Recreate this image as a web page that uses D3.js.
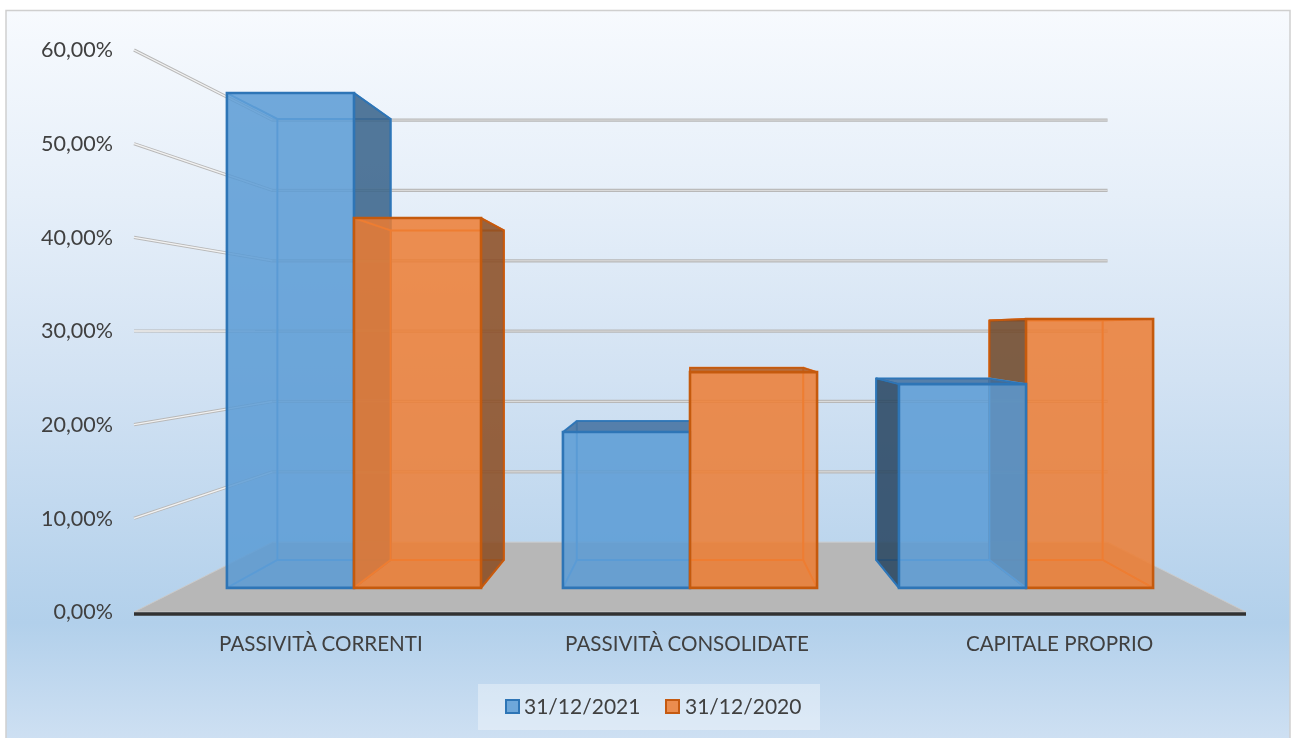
<!DOCTYPE html>
<html><head><meta charset="utf-8">
<script src="https://cdn.jsdelivr.net/npm/d3@7/dist/d3.min.js"></script>
<style>html,body{margin:0;padding:0;background:#fff}svg{display:block}text{font-family:Lato,sans-serif;fill:#404040}</style>
</head><body><div id="c"></div>
<script>
const categories = ["PASSIVITÀ CORRENTI","PASSIVITÀ CONSOLIDATE","CAPITALE PROPRIO"];
const seriesNames = ["31/12/2021","31/12/2020"];
const values2021 = [57.8,18.2,23.8];
const values2020 = [43.2,25.2,31.4];
const yTicks = [0,10,20,30,40,50,60];

const W=1292,H=738;
const svg=d3.select("#c").append("svg").attr("width",W).attr("height",H);
const defs=svg.append("defs");
const bg=defs.append("linearGradient").attr("id","bg").attr("x1",0).attr("y1",0).attr("x2",0).attr("y2",1);
[[0,"#f7fafe"],[0.25,"#e6eff9"],[0.5,"#d2e2f3"],[0.83,"#b2d0eb"],[1,"#d0e1f3"]].forEach(d=>bg.append("stop").attr("offset",d[0]).attr("stop-color",d[1]));
const soft2=defs.append("filter").attr("id","soft2").attr("filterUnits","userSpaceOnUse").attr("x",0).attr("y",0).attr("width",W).attr("height",H);
soft2.append("feGaussianBlur").attr("stdDeviation",0.6);
const soft3=defs.append("filter").attr("id","soft3").attr("filterUnits","userSpaceOnUse").attr("x",0).attr("y",0).attr("width",W).attr("height",H);
soft3.append("feGaussianBlur").attr("stdDeviation",0.3);

svg.append("rect").attr("x",6).attr("y",10.5).attr("width",1284).attr("height",H).attr("fill","url(#bg)").attr("stroke","#cfcfcf").attr("stroke-width",1.5);

// Perspective model of the 3-D box: front plane, depth 0..1 -> scale
const y=d3.scaleLinear().domain([0,60]).range([612,50]);
const x=d3.scaleLinear().domain([134,1246]).range([134,1246]);
const scaleAtDepth=d3.scaleLinear().domain([0,1]).range([1,0.751]);
const vp=[690,331.5];
const barFront=0.345,barBack=0.745;
function P(X,v,d){const s=scaleAtDepth(d);return [vp[0]+(x(X)-vp[0])*s, vp[1]+(y(v)-vp[1])*s];}
const poly=a=>"M"+a.map(p=>p.join(",")).join("L")+"Z";
const pl=a=>"M"+a.map(p=>p.join(",")).join("L");

const catX=d3.scalePoint().domain(categories).range([322.4,1057.6]);
const serX=d3.scaleBand().domain(seriesNames).range([-139,139]);
const XL=134,XR=1246;

const g=svg.append("g").attr("filter","url(#soft2)");
// gridlines
const grid=g.append("g");
yTicks.slice(1).forEach(t=>{
  const a=P(XL,t,0),b=P(XL,t,1),c=P(XR,t,1);
  grid.append("path").attr("d",pl([a,b,c])).attr("fill","none").attr("stroke","#b8b8b8").attr("stroke-width",3.2);
  grid.append("path").attr("d",pl([a,b])).attr("fill","none").attr("stroke","#f2f2f2").attr("stroke-width",1.4);
  grid.append("path").attr("d",pl([b,c])).attr("fill","none").attr("stroke","#dcdcdc").attr("stroke-width",1);
});
// floor
g.append("path").attr("d",poly([P(XL,0,0),P(XR,0,0),P(XR,0,1),P(XL,0,1)])).attr("fill","#b7b7b7").attr("stroke","#cacaca").attr("stroke-width",1);
// axis baseline
g.append("line").attr("x1",x(XL)).attr("x2",x(XR)).attr("y1",y(0)+2).attr("y2",y(0)+2).attr("stroke","#333").attr("stroke-width",3.6);

const styles={
 "31/12/2021":{face:"#5b9bd5",edge:"#2e75b6",inner:"#5b9bd5",sideR:"#376288",sideL:"#24435f",top:"#3f6f9f"},
 "31/12/2020":{face:"#ed7d31",edge:"#c55a11",inner:"#ed7d31",sideR:"#8a4a20",sideL:"#6e4526",top:"#b25a1f"}
};
// bars, farthest from the vanishing point first
const bars=[];
categories.forEach((c,i)=>{
  seriesNames.forEach((s,k)=>{
    const v=(k===0?values2021:values2020)[i];
    const x0=catX(c)+serX(s),x1=x0+serX.bandwidth();
    bars.push({x0,x1,v,s,dist:Math.abs((x0+x1)/2-vp[0]),i});
  });
});
bars.sort((a,b)=>a.i-b.i||b.dist-a.dist);
bars.forEach(b=>{
  const st=styles[b.s],G=g.append("g");
  const f=(X,v)=>P(X,v,barFront),k=(X,v)=>P(X,v,barBack);
  const fbl=f(b.x0,0),fbr=f(b.x1,0),ftl=f(b.x0,b.v),ftr=f(b.x1,b.v);
  const kbl=k(b.x0,0),kbr=k(b.x1,0),ktl=k(b.x0,b.v),ktr=k(b.x1,b.v);
  // inner edges seen through the front face
  const inner=G.append("g").attr("fill","none").attr("stroke",st.inner).attr("stroke-width",2);
  inner.append("path").attr("d",poly([kbl,kbr,ktr,ktl]));
  inner.append("path").attr("d",pl([fbl,kbl]));
  inner.append("path").attr("d",pl([fbr,kbr]));
  inner.append("path").attr("d",pl([ftl,ktl]));
  inner.append("path").attr("d",pl([ftr,ktr]));
  // visible side faces
  if(kbr[0]>fbr[0]+1) G.append("path").attr("d",poly([fbr,kbr,ktr,ftr])).attr("fill",st.sideR).attr("fill-opacity",.85).attr("stroke",st.edge).attr("stroke-width",2).attr("stroke-linejoin","round");
  if(kbl[0]<fbl[0]-1) G.append("path").attr("d",poly([fbl,kbl,ktl,ftl])).attr("fill",st.sideL).attr("fill-opacity",.85).attr("stroke",st.edge).attr("stroke-width",2).attr("stroke-linejoin","round");
  if(ktl[1]<ftl[1]-1) G.append("path").attr("d",poly([ftl,ftr,ktr,ktl])).attr("fill",st.top).attr("fill-opacity",.85).attr("stroke",st.edge).attr("stroke-width",1.5).attr("stroke-linejoin","round");
  // front
  G.append("path").attr("d",poly([fbl,fbr,ftr,ftl])).attr("fill",st.face).attr("fill-opacity",.85).attr("stroke",st.edge).attr("stroke-width",2.6).attr("stroke-linejoin","miter");
});

// axes
const textLayer=svg.append("g").attr("filter","url(#soft3)");
const yAxis=d3.axisLeft(y).tickValues(yTicks).tickSize(0).tickPadding(0).tickFormat(d=>d3.format(".2f")(d).replace(".",",")+"%");
const ya=textLayer.append("g").attr("transform","translate(113,0)").call(yAxis);
ya.select(".domain").remove();
ya.selectAll("text").style("font-size","21.5px").style("font-family","Lato,sans-serif").style("fill","#404040");
const xAxis=d3.axisBottom(catX).tickSize(0).tickPadding(0);
const xa=textLayer.append("g").attr("transform","translate(0,636.5)").call(xAxis);
xa.select(".domain").remove();
xa.selectAll("text").attr("dx",(d,i)=>[-2,-3.5,1.5][i]).style("font-size","20.6px").style("font-family","Lato,sans-serif").style("fill","#404040");

// legend
const lg=svg.append("g");
lg.append("rect").attr("x",478).attr("y",684).attr("width",342).attr("height",46).attr("fill","#fff").attr("fill-opacity",.35);
const legX=d3.scaleOrdinal().domain(seriesNames).range([506,666]);
seriesNames.forEach((s,i)=>{
  const st=styles[s];
  lg.append("rect").attr("x",legX(s)).attr("y",700).attr("width",13).attr("height",13).attr("fill",st.face).attr("fill-opacity",.85).attr("stroke",st.edge).attr("stroke-width",2);
  lg.append("text").attr("x",legX(s)+18+i).attr("y",714).attr("filter","url(#soft3)").style("font-size","21px").text(s);
});
</script></body></html>
